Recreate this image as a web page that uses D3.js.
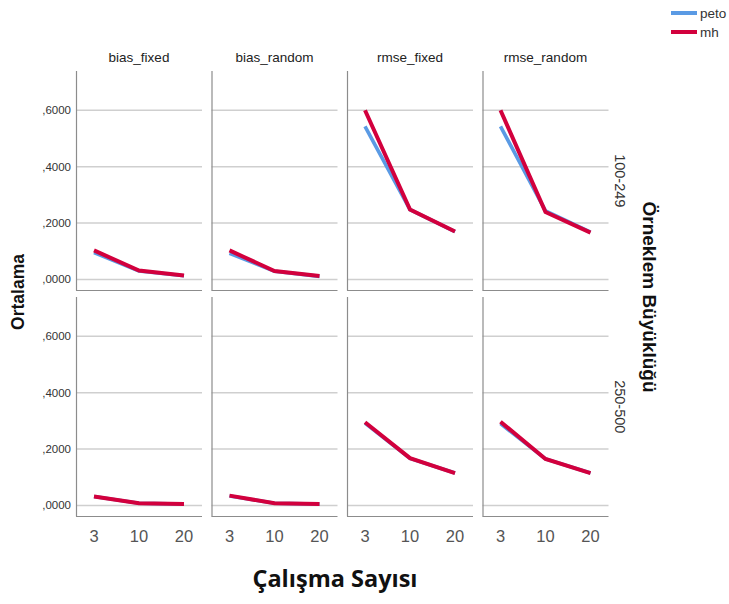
<!DOCTYPE html>
<html>
<head>
<meta charset="utf-8">
<script src="https://cdn.jsdelivr.net/npm/d3@7"></script>
<style>
  body { margin: 0; background: #fff; }
  text { font-family: "Liberation Sans", Arial, sans-serif; }
</style>
</head>
<body>
<div id="chart"></div>
<script>
// data
var studyCounts = ["3", "10", "20"];
var measures = ["bias_fixed", "bias_random", "rmse_fixed", "rmse_random"];
var sampleSizes = ["100-249", "250-500"];
var methods = ["peto", "mh"];
var yTicks = [0, 0.2, 0.4, 0.6];

// values per sample size row, per measure, for 3/10/20 studies
var petoSmall = [[0.095, 0.030, 0.013], [0.093, 0.029, 0.011], [0.543, 0.248, 0.170], [0.543, 0.243, 0.168]];
var mhSmall   = [[0.103, 0.032, 0.014], [0.103, 0.030, 0.012], [0.600, 0.248, 0.170], [0.600, 0.239, 0.166]];
var petoLarge = [[0.032, 0.008, 0.005], [0.034, 0.008, 0.005], [0.292, 0.167, 0.115], [0.290, 0.165, 0.115]];
var mhLarge   = [[0.032, 0.008, 0.005], [0.035, 0.008, 0.005], [0.295, 0.168, 0.115], [0.297, 0.165, 0.115]];

var colors = {peto: "#5a9ae4", mh: "#d2003d"};

var width = 729, height = 604;
var panelW = 126, panelGap = 9.5, left = 76;
var rowTops = [71, 297], rowH = 219.5;

var svg = d3.select("#chart").append("svg")
    .attr("width", width)
    .attr("height", height);

var x = d3.scalePoint().domain(studyCounts).range([0, panelW]).padding(0.4);

function rowData(r, m, meth){
  if (r == 0) return meth == "peto" ? petoSmall[m] : mhSmall[m];
  return meth == "peto" ? petoLarge[m] : mhLarge[m];
}

sampleSizes.forEach(function(size, r){
  var y = d3.scaleLinear().domain([-0.039, 0.739]).range([rowTops[r] + rowH, rowTops[r]]);

  measures.forEach(function(meas, m){
    var g = svg.append("g")
      .attr("transform", "translate(" + (left + m * (panelW + panelGap)) + ",0)");

    // grid lines
    g.selectAll("line.grid")
      .data(yTicks)
      .enter().append("line")
      .attr("x1", 0).attr("x2", panelW)
      .attr("y1", function(d){ return y(d); })
      .attr("y2", function(d){ return y(d); })
      .attr("stroke", "#cfcfcf")
      .attr("stroke-width", 1.5);

    // frame: left and bottom
    g.append("line")
      .attr("x1", 0.5).attr("x2", 0.5)
      .attr("y1", rowTops[r]).attr("y2", rowTops[r] + rowH)
      .attr("stroke", "#8c8c8c").attr("stroke-width", 1.2);
    g.append("line")
      .attr("x1", 0).attr("x2", panelW)
      .attr("y1", rowTops[r] + rowH).attr("y2", rowTops[r] + rowH)
      .attr("stroke", "#8c8c8c").attr("stroke-width", 1.2);

    var line = d3.line()
      .x(function(d, i){ return x(studyCounts[i]); })
      .y(function(d){ return y(d); });

    methods.forEach(function(meth){
      g.append("path")
        .datum(rowData(r, m, meth))
        .attr("d", line)
        .attr("fill", "none")
        .attr("stroke", colors[meth])
        .attr("stroke-width", meth == "mh" ? 4 : 3.6);
    });

    if (r == 0) {
      g.append("text")
        .attr("x", panelW / 2).attr("y", 62)
        .attr("text-anchor", "middle")
        .attr("font-size", 13.5)
        .attr("fill", "#222")
        .text(meas);
    }
    if (r == 1) {
      g.selectAll("text.xt")
        .data(studyCounts)
        .enter().append("text")
        .attr("x", function(d){ return x(d); })
        .attr("y", 542)
        .attr("text-anchor", "middle")
        .attr("font-size", 16.5)
        .attr("fill", "#555")
        .text(function(d){ return d; });
    }
  });

  // y tick labels
  svg.selectAll("text.yt" + r)
    .data(yTicks)
    .enter().append("text")
    .attr("x", 71)
    .attr("y", function(d){ return y(d) + 4; })
    .attr("text-anchor", "end")
    .attr("font-size", 11.5)
    .attr("fill", "#333")
    .text(function(d){ return "," + d3.format(".4f")(d).split(".")[1]; });

  // row strip label
  var cy = (rowTops[r] + rowTops[r] + rowH) / 2;
  svg.append("text")
    .attr("transform", "translate(615," + cy + ") rotate(90)")
    .attr("text-anchor", "middle")
    .attr("font-size", 14.5)
    .attr("fill", "#333")
    .text(size);
});

// axis titles
svg.append("text")
  .attr("transform", "translate(24,292) rotate(-90)")
  .attr("text-anchor", "middle")
  .attr("font-size", 17.5)
  .attr("font-weight", "bold")
  .attr("fill", "#111")
  .text("Ortalama");

svg.append("text")
  .attr("transform", "translate(643,297) rotate(90)")
  .attr("text-anchor", "middle")
  .attr("font-size", 19)
  .attr("font-weight", "bold")
  .attr("fill", "#111")
  .text("Örneklem Büyüklüğü");

svg.append("text")
  .attr("x", 335).attr("y", 587)
  .attr("text-anchor", "middle")
  .attr("font-size", 23.5)
  .attr("font-weight", "bold")
  .style("font-family", "'Open Sans', sans-serif")
  .attr("fill", "#111")
  .text("Çalışma Sayısı");

// legend
var legend = svg.selectAll("g.legend")
  .data(methods)
  .enter().append("g")
  .attr("transform", function(d, i){ return "translate(671," + (13 + i * 19) + ")"; });
legend.append("line")
  .attr("x1", 0).attr("x2", 26)
  .attr("stroke", function(d){ return colors[d]; })
  .attr("stroke-width", 4);
legend.append("text")
  .attr("x", 29).attr("y", 5)
  .attr("font-size", 13.5)
  .attr("fill", "#333")
  .text(function(d){ return d; });
</script>
</body>
</html>
